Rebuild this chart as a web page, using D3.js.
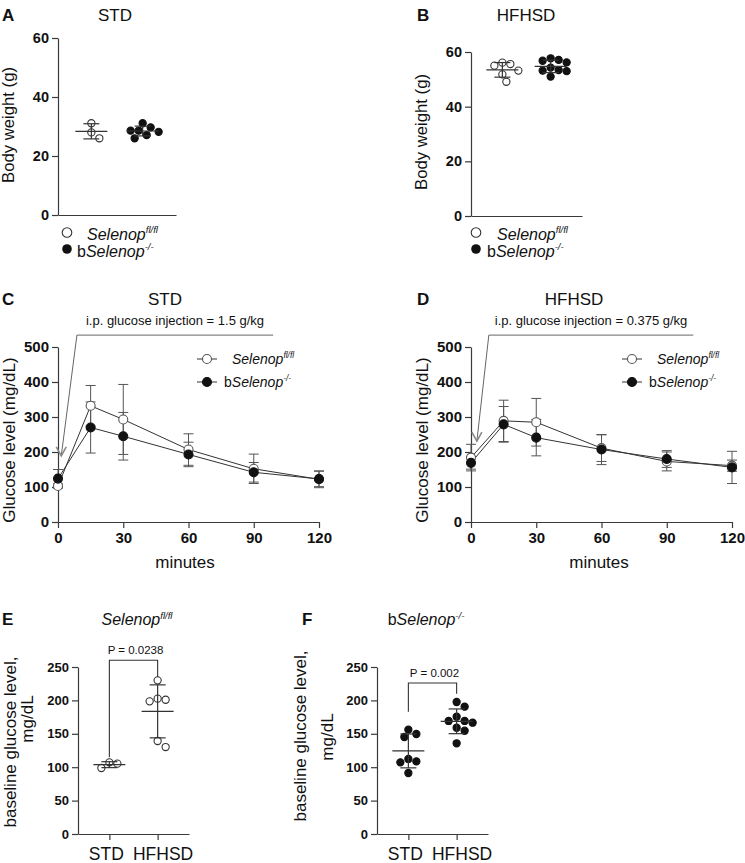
<!DOCTYPE html>
<html>
<head>
<meta charset="utf-8">
<script src="https://cdn.jsdelivr.net/npm/d3@7"></script>
<style>
  body { margin: 0; background: #fff; }
  svg { display: block; }
</style>
</head>
<body>
<div id="fig"></div>
<script>
// ---- values ----
const genotypes = ['fl', 'ko'];
const diets = ['STD', 'HFHSD'];

// body weight (g), panels A/B
const bwStdFl = [31.1, 28.0, 26.0];
const bwStdKo = [31.1, 29.7, 28.6, 28.6, 28.2, 27.1, 26.0];
const bwHfFl = [56.1, 55.6, 55.0, 53.2, 51.8, 49.1];
const bwHfKo = [57.7, 57.1, 56.8, 56.2, 54.3, 53.4, 53.2, 53.0, 51.0];
const bwTicks = [0, 20, 40, 60];

// GTT, panels C/D (mean and SD, mg/dL)
const minutes = [0, 15, 30, 60, 90, 120];
const minuteTicks = [0, 30, 60, 90, 120];
const glucoseTicks = [0, 100, 200, 300, 400, 500];
const stdFlMean = [103, 332, 293, 207, 152, 122];
const stdFlSd = [6, 58, 100, 45, 42, 24];
const stdKoMean = [124, 270, 245, 193, 142, 123];
const stdKoSd = [26, 73, 68, 35, 28, 22];
const hfFlMean = [184, 289, 285, 211, 173, 161];
const hfFlSd = [38, 59, 68, 38, 27, 16];
const hfKoMean = [169, 279, 241, 207, 180, 156];
const hfKoSd = [18, 51, 52, 43, 24, 46];

// baseline glucose, panels E/F
const baseFlStd = [98.8, 107.3, 105.3];
const baseFlHf = [230, 202.6, 198.6, 201, 130.2, 139.2];
const baseKoStd = [149.7, 156.2, 145.2, 112.3, 107.3, 108.8, 91.3];
const baseKoHf = [190.6, 197.6, 175.6, 169.2, 169.2, 166.6, 159.1, 154.6, 135.8];
const baseTicks = [0, 50, 100, 150, 200, 250];
const pValues = ['P = 0.0238', 'P = 0.002'];
const bracketFl = [115, 260, 235];   // left end, top, right end
const bracketKo = [183, 226, 210];

const FONT = '"Liberation Sans", Arial, Helvetica, sans-serif';
const AX = '#3a3a3a';

const flLabel = [{t: 'Selenop', it: true}, {t: 'fl/fl', sup: true, it: true}];
const koLabel = [{t: 'b'}, {t: 'Selenop', it: true}, {t: '-/-', sup: true, it: true}];

const svg = d3.select('#fig').append('svg')
    .attr('width', 745)
    .attr('height', 863)
    .style('font-family', FONT);

function rich(sel, parts, size) {
    parts.forEach(p => {
        const ts = sel.append('tspan').text(p.t);
        if (p.it) ts.style('font-style', 'italic');
        if (p.sup) ts.attr('font-size', size * 0.6).attr('dy', -size * 0.4);
    });
    return sel;
}

function text(x, y, str, size, opts = {}) {
    const t = svg.append('text')
        .attr('x', x).attr('y', y)
        .attr('font-size', size)
        .attr('fill', '#111')
        .attr('text-anchor', opts.anchor || 'start');
    if (opts.bold) t.attr('font-weight', 'bold');
    if (Array.isArray(str)) rich(t, str, size); else t.text(str);
    return t;
}

function vlabel(x, cy, str, size) {
    const t = svg.append('text')
        .attr('transform', `translate(${x},${cy}) rotate(-90)`)
        .attr('text-anchor', 'middle')
        .attr('font-size', size)
        .attr('fill', '#111');
    if (Array.isArray(str)) rich(t, str, size); else t.text(str);
}

function styleAxis(ax, size) {
    ax.attr('font-family', FONT).attr('font-size', size).attr('font-weight', 'bold');
    ax.select('.domain').attr('stroke', AX).attr('stroke-width', 1.2);
    ax.selectAll('.tick line').attr('stroke', AX).attr('stroke-width', 1.2);
    ax.selectAll('.tick text').attr('fill', '#111');
}

// simple beeswarm: spread points sideways until they do not overlap
function swarm(values, cx, y, r) {
    const d = 2 * r + 0.8;
    const placed = [];
    values.slice().sort(d3.descending).forEach(v => {
        const py = y(v);
        for (let k = 0; k < 60; k++) {
            const off = (k === 0 ? 0 : Math.ceil(k / 2) * (k % 2 ? 1 : -1)) * d / 2;
            if (placed.every(p => (p.x - cx - off) ** 2 + (p.y - py) ** 2 >= d * d)) {
                placed.push({x: cx + off, y: py});
                break;
            }
        }
    });
    return placed;
}

function scatterPanel(p) {
    const g = svg.append('g');
    const y = d3.scaleLinear().domain([0, d3.max(p.ticks)]).range([p.yBot, p.yTop]);
    const x = d3.scalePoint().domain(p.cats).range([p.x0, p.x1]).padding(0.65);

    const ay = g.append('g')
        .attr('transform', `translate(${p.x0},0)`)
        .call(d3.axisLeft(y).tickValues(p.ticks).tickSize(6).tickSizeOuter(0).tickPadding(3));
    styleAxis(ay, p.tickSize);

    const ax = g.append('g')
        .attr('transform', `translate(0,${p.yBot})`)
        .call(d3.axisBottom(x).tickSize(p.xTicks ? 6 : 0).tickSizeOuter(0).tickFormat(''));
    styleAxis(ax, p.tickSize);

    p.groups.forEach((vals, i) => {
        const cx = x(p.cats[i]);
        const filled = p.filled[i];
        const pts = swarm(vals, cx, y, p.r);
        g.selectAll(null)
            .data(pts)
            .join('circle')
                .attr('cx', d => d.x)
                .attr('cy', d => d.y)
                .attr('r', p.r)
                .attr('fill', filled ? '#111' : '#fff')
                .attr('stroke', filled ? '#111' : '#333')
                .attr('stroke-width', 1.1);

        const m = d3.mean(vals), s = d3.deviation(vals);
        const lines = [
            [cx - 16, y(m), cx + 16, y(m)],
            [cx - 8, y(m + s), cx + 8, y(m + s)],
            [cx - 8, y(m - s), cx + 8, y(m - s)],
            [cx, y(m + s), cx, y(m - s)]
        ];
        g.selectAll(null)
            .data(lines)
            .join('line')
                .attr('x1', d => d[0]).attr('y1', d => d[1])
                .attr('x2', d => d[2]).attr('y2', d => d[3])
                .attr('stroke', '#333')
                .attr('stroke-width', 1.2);
    });

    if (p.bracket) {
        const b = p.bracket;
        const xl = x(p.cats[0]), xr = x(p.cats[1]);
        g.append('path')
            .attr('d', `M${xl},${y(b[0])}V${y(b[1])}H${xr}V${y(b[2])}`)
            .attr('fill', 'none')
            .attr('stroke', '#333')
            .attr('stroke-width', 1.1);
        text((xl + xr) / 2 + 2, y(b[1]) - 6, p.pLabel, 11.5, {anchor: 'middle'});
    }
    return {x, y};
}

function linePanel(p) {
    const g = svg.append('g');
    const x = d3.scaleLinear().domain([0, 120]).range([p.x0, p.x1]);
    const y = d3.scaleLinear().domain([0, 500]).range([522, 347]);

    const ay = g.append('g')
        .attr('transform', `translate(${p.x0},0)`)
        .call(d3.axisLeft(y).tickValues(glucoseTicks).tickSize(6).tickSizeOuter(0).tickPadding(3));
    styleAxis(ay, 15);
    const ax = g.append('g')
        .attr('transform', 'translate(0,522)')
        .call(d3.axisBottom(x).tickValues(minuteTicks).tickSize(6).tickSizeOuter(0).tickPadding(4));
    styleAxis(ax, 15);

    const series = [
        {mean: p.flMean, sd: p.flSd, filled: false},
        {mean: p.koMean, sd: p.koSd, filled: true}
    ];

    series.forEach(s => {
        minutes.forEach((t, i) => {
            const cx = x(t), lo = y(s.mean[i] - s.sd[i]), hi = y(s.mean[i] + s.sd[i]);
            g.append('path')
                .attr('d', `M${cx},${lo}V${hi}M${cx - 5},${hi}H${cx + 5}M${cx - 5},${lo}H${cx + 5}`)
                .attr('fill', 'none')
                .attr('stroke', '#555')
                .attr('stroke-width', 1);
        });
    });

    const line = d3.line().x((d, i) => x(minutes[i])).y(d => y(d));
    series.forEach(s => {
        g.append('path')
            .attr('d', line(s.mean))
            .attr('fill', 'none')
            .attr('stroke', '#333')
            .attr('stroke-width', 1);
    });
    series.forEach(s => {
        g.selectAll(null)
            .data(s.mean)
            .join('circle')
                .attr('cx', (d, i) => x(minutes[i]))
                .attr('cy', d => y(d))
                .attr('r', 4.5)
                .attr('fill', s.filled ? '#111' : '#fff')
                .attr('stroke', s.filled ? '#111' : '#555')
                .attr('stroke-width', 1.1);
    });

    // legend
    [flLabel, koLabel].forEach((lab, i) => {
        const ly = 359 + i * 23;
        g.append('line')
            .attr('x1', p.legendX - 10).attr('x2', p.legendX + 10)
            .attr('y1', ly).attr('y2', ly)
            .attr('stroke', '#333');
        g.append('circle')
            .attr('cx', p.legendX).attr('cy', ly).attr('r', 4.5)
            .attr('fill', i ? '#111' : '#fff')
            .attr('stroke', i ? '#111' : '#555')
            .attr('stroke-width', 1.1);
        text(p.legendX + (i ? 17 : 25), ly + 5, lab, 14);
    });

    // injection annotation
    const a = p.arrow;
    const tx = x(a.tip[0]), ty = y(a.tip[1]);
    g.append('path')
        .attr('d', `M${x(a.end)},${y(534)}H${x(a.start)}L${tx},${ty}`)
        .attr('fill', 'none')
        .attr('stroke', '#666')
        .attr('stroke-width', 1);
    g.append('path')
        .attr('d', `M${tx - 5},${ty - 9}L${tx},${ty}L${tx + 5},${ty - 9}`)
        .attr('fill', 'none')
        .attr('stroke', '#888')
        .attr('stroke-width', 1.6);
    text((x(a.start) + x(a.end)) / 2, y(534) - 10, p.note, 13, {anchor: 'middle'});
}

// ---- panel letters and titles ----
[['A', 2, 21], ['B', 417, 21], ['C', 2, 305], ['D', 417, 305], ['E', 2, 625], ['F', 302, 625]]
    .forEach(d => text(d[1], d[2], d[0], 17, {bold: true}));

text(115, 21, diets[0], 17, {anchor: 'middle'});
text(526, 21, diets[1], 17, {anchor: 'middle'});
text(165, 305, diets[0], 17, {anchor: 'middle'});
text(574, 305, diets[1], 17, {anchor: 'middle'});
text(137, 625, flLabel, 16, {anchor: 'middle'});
text(426, 625, koLabel, 16, {anchor: 'middle'});

// ---- A, B: body weight ----
scatterPanel({x0: 58, x1: 176, yTop: 38, yBot: 215, ticks: bwTicks, tickSize: 14.5,
    cats: genotypes, groups: [bwStdFl, bwStdKo], filled: [false, true], r: 3.6});
scatterPanel({x0: 471, x1: 582, yTop: 52, yBot: 216, ticks: bwTicks, tickSize: 14.5,
    cats: genotypes, groups: [bwHfFl, bwHfKo], filled: [false, true], r: 3.6});
vlabel(14, 125, 'Body weight (g)', 16.7);
vlabel(427, 132, 'Body weight (g)', 16.7);

[[67, 87, 77], [476, 497, 487]].forEach(d => {
    svg.append('circle').attr('cx', d[0]).attr('cy', 232.5).attr('r', 4.8)
        .attr('fill', '#fff').attr('stroke', '#333').attr('stroke-width', 1.1);
    svg.append('circle').attr('cx', d[0]).attr('cy', 249).attr('r', 4.8).attr('fill', '#111');
    text(d[1], 239.5, flLabel, 16);
    text(d[2], 256.5, koLabel, 16);
});

// ---- C, D: glucose tolerance ----
linePanel({x0: 58, x1: 319, flMean: stdFlMean, flSd: stdFlSd, koMean: stdKoMean, koSd: stdKoSd,
    legendX: 207, note: 'i.p. glucose injection = 1.5 g/kg',
    arrow: {start: 8.7, end: 98.9, tip: [1.5, 189]}});
linePanel({x0: 471, x1: 732, flMean: hfFlMean, flSd: hfFlSd, koMean: hfKoMean, koSd: hfKoSd,
    legendX: 632, note: 'i.p. glucose injection = 0.375 g/kg',
    arrow: {start: 8.2, end: 102.2, tip: [2.7, 231]}});
vlabel(15, 440, 'Glucose level (mg/dL)', 17);
vlabel(428, 440, 'Glucose level (mg/dL)', 17);
text(185, 568, 'minutes', 17, {anchor: 'middle'});
text(599, 568, 'minutes', 17, {anchor: 'middle'});

// ---- E, F: baseline glucose ----
const e = scatterPanel({x0: 78, x1: 189, yTop: 667, yBot: 834, ticks: baseTicks, tickSize: 13,
    cats: diets, groups: [baseFlStd, baseFlHf], filled: [false, false], r: 3.6, xTicks: true,
    bracket: bracketFl, pLabel: pValues[0]});
const f = scatterPanel({x0: 377, x1: 488, yTop: 667, yBot: 834, ticks: baseTicks, tickSize: 13,
    cats: diets, groups: [baseKoStd, baseKoHf], filled: [true, true], r: 3.6, xTicks: true,
    bracket: bracketKo, pLabel: pValues[1]});
[e, f].forEach(s => diets.forEach((d, i) =>
    text(s.x(d) + (i ? 5.5 : -3), 860, d, 17.5, {anchor: 'middle'})));

vlabel(15.5, 742, 'baseline glucose level,', 17);
vlabel(32.5, 719, 'mg/dL', 17);
vlabel(306, 736, 'baseline glucose level,', 17);
vlabel(333, 737, 'mg/dL', 17);
</script>
</body>
</html>
